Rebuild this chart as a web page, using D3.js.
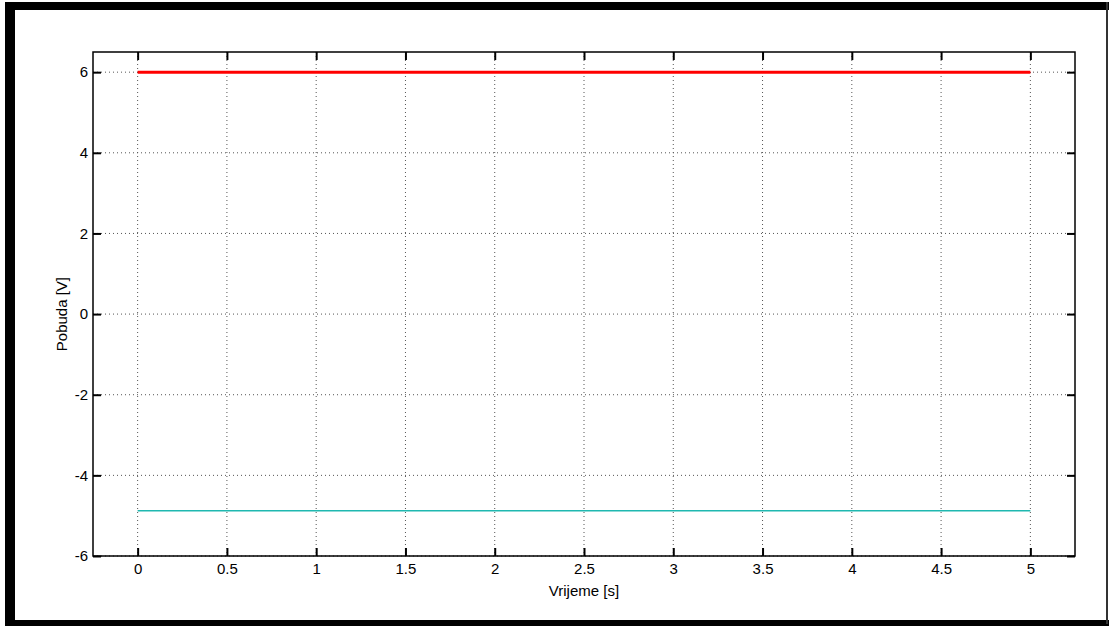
<!DOCTYPE html>
<html><head><meta charset="utf-8">
<script src="https://cdn.jsdelivr.net/npm/d3@7"></script>
<style>body{margin:0;background:#fff}svg{display:block}</style>
</head><body><svg id="c" width="1111" height="626"></svg>
<script>
const xTicks = [0,0.5,1,1.5,2,2.5,3,3.5,4,4.5,5];
const yTicks = [-6,-4,-2,0,2,4,6];
const time = [0, 5];
const seriesRed = [6, 6];
const seriesCyan = [-4.88, -4.88];

const svg = d3.select("#c");
// outer frame
svg.append("rect").attr("x",0).attr("y",0).attr("width",1111).attr("height",626).attr("fill","#fff");
svg.append("rect").attr("x",5).attr("y",2).attr("width",1104).attr("height",8).attr("fill","#000");
svg.append("rect").attr("x",5).attr("y",2).attr("width",10).attr("height",622).attr("fill","#000");
svg.append("rect").attr("x",5).attr("y",620).attr("width",1104).attr("height",6).attr("fill","#000");
svg.append("rect").attr("x",1106).attr("y",2).attr("width",2).attr("height",622).attr("fill","#333");

const L=93, R=1075, T=52, B=556;
const x = d3.scaleLinear().domain([-0.25,5.25]).range([L,R]);
const y = d3.scaleLinear().domain([-6,6.5]).range([B,T]);

// grid
const g = svg.append("g");
g.selectAll(".vg").data(xTicks).join("line")
  .attr("x1",d=>x(d)).attr("x2",d=>x(d)).attr("y1",T).attr("y2",B)
  .attr("stroke","#555").attr("stroke-width",1).attr("stroke-dasharray","1,3");
g.selectAll(".hg").data(yTicks).join("line")
  .attr("x1",L).attr("x2",R).attr("y1",d=>y(d)).attr("y2",d=>y(d))
  .attr("stroke","#555").attr("stroke-width",1).attr("stroke-dasharray","1,3");

// lines
const line = d3.line().x((d,i)=>x(time[i])).y(d=>y(d));
svg.append("path").datum(seriesCyan).attr("d",line).attr("fill","none").attr("stroke","#1fb8b0").attr("stroke-width",1.5);
svg.append("path").datum(seriesRed).attr("d",line).attr("fill","none").attr("stroke","#ff0000").attr("stroke-width",3);

// axes
const font = "Liberation Sans, Arial, sans-serif";
const fmt = d => String(d);
const ax = (sel)=>{sel.select(".domain").remove(); sel.selectAll("text").attr("font-family",font).attr("font-size",15).attr("fill","#000");
  sel.selectAll(".tick line").attr("stroke","#000").attr("stroke-width",2);};
svg.append("g").attr("transform",`translate(0,${B})`)
  .call(d3.axisBottom(x).tickValues(xTicks).tickSizeInner(-8).tickSizeOuter(0).tickPadding(7).tickFormat(fmt)).call(ax);
svg.append("g").attr("transform",`translate(0,${T})`)
  .call(d3.axisTop(x).tickValues(xTicks).tickSizeInner(-8).tickSizeOuter(0).tickFormat("")).call(ax);
svg.append("g").attr("transform",`translate(${L},0)`)
  .call(d3.axisLeft(y).tickValues(yTicks).tickSizeInner(-8).tickSizeOuter(0).tickPadding(5).tickFormat(fmt)).call(ax);
svg.append("g").attr("transform",`translate(${R},0)`)
  .call(d3.axisRight(y).tickValues(yTicks).tickSizeInner(-8).tickSizeOuter(0).tickFormat("")).call(ax);

svg.append("rect").attr("x",L).attr("y",T).attr("width",R-L).attr("height",B-T)
  .attr("fill","none").attr("stroke","#000").attr("stroke-width",1.5);

svg.append("text").attr("x",x(2.5)).attr("y",596).attr("text-anchor","middle")
  .attr("font-family",font).attr("font-size",15).text("Vrijeme [s]");
svg.append("text").attr("transform",`translate(67,${y(0)}) rotate(-90)`).attr("text-anchor","middle")
  .attr("font-family",font).attr("font-size",15).text("Pobuda [V]");
</script></body></html>
